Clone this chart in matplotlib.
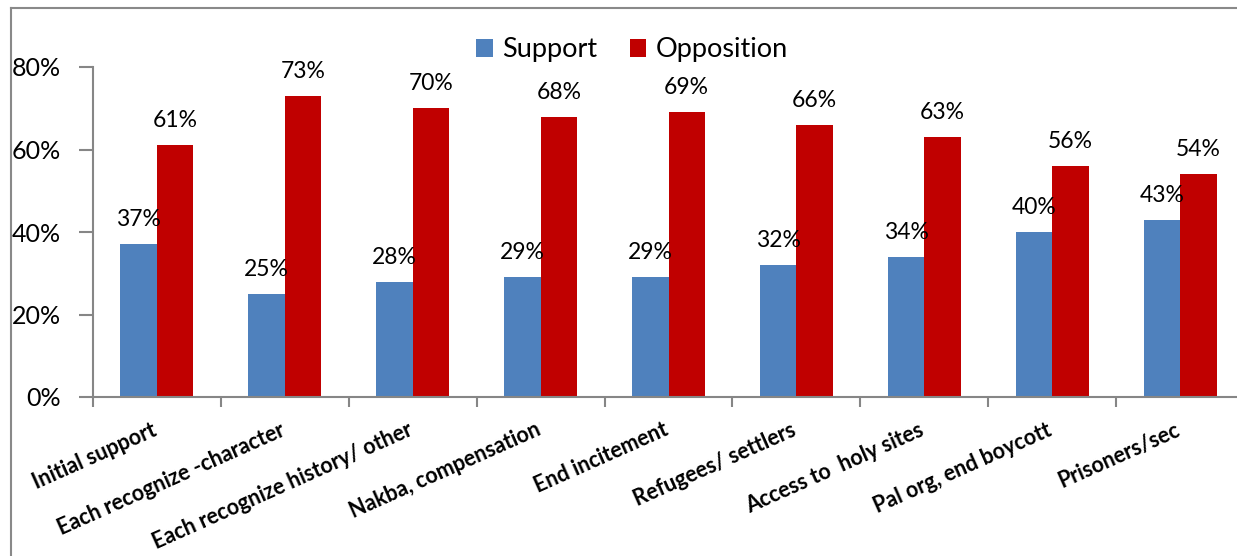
import matplotlib.pyplot as plt
import numpy as np
from matplotlib.lines import Line2D

categories = ['Initial support', 'Each recognize -character', 'Each recognize history/ other',
              'Nakba, compensation', 'End incitement', 'Refugees/ settlers',
              'Access to  holy sites', 'Pal org, end boycott', 'Prisoners/sec']
support = [37, 25, 28, 29, 29, 32, 34, 40, 43]
opposition = [61, 73, 70, 68, 69, 66, 63, 56, 54]

plt.rcParams['font.family'] = ['Lato', 'DejaVu Sans']

fig = plt.figure(figsize=(12.37, 5.56), dpi=100)
ax = fig.add_axes([93 / 1237, 159 / 556, 1151 / 1237, 330 / 556])

x = np.arange(len(categories))
w = 0.285
b1 = ax.bar(x - w / 2, support, w, color='#4F81BD', label='Support')
b2 = ax.bar(x + w / 2, opposition, w, color='#C00000', label='Opposition')

for bars, vals in ((b1, support), (b2, opposition)):
    for r, v in zip(bars, vals):
        ax.annotate(f'{v}%', (r.get_x() + r.get_width() / 2, v), xytext=(0, 10),
                    textcoords='offset points', ha='center', va='bottom',
                    fontsize=16.5, color='#000000', annotation_clip=False)

ax.set_xlim(-0.5, len(categories) - 0.5)
ax.set_ylim(0, 80)
ax.set_yticks([0, 20, 40, 60, 80])
ax.set_yticklabels(['0%', '20%', '40%', '60%', '80%'], fontsize=18)
ax.set_xticks(np.arange(len(categories) + 1) - 0.5)
ax.set_xticklabels([])
ax.tick_params(axis='both', color='#868686', width=1.5, direction='out')
ax.tick_params(axis='y', length=10, pad=13)
ax.tick_params(axis='x', length=7)

for s in ['top', 'right']:
    ax.spines[s].set_visible(False)
for s in ['left', 'bottom']:
    ax.spines[s].set_color('#868686')
    ax.spines[s].set_linewidth(1.5)

# slanted category labels
for i, c in enumerate(categories):
    ax.annotate(c, (i, 0), xytext=(-4, -16), textcoords='offset points',
                ha='right', va='top', rotation=24, rotation_mode='anchor',
                fontsize=15.5, fontweight='bold', annotation_clip=False)

fig.legend(handles=[b1, b2], loc='center', bbox_to_anchor=(632 / 1237, 1 - 50 / 556),
           ncol=2, frameon=False, fontsize=19.5, handlelength=0.6, handleheight=0.6,
           handletextpad=0.35, columnspacing=1.2, borderpad=0)

# outer chart border
fig.add_artist(Line2D([11 / 1237, 1.01], [1 - 8 / 556] * 2, color='#898989', lw=1.5,
                      transform=fig.transFigure))
fig.add_artist(Line2D([11 / 1237] * 2, [-0.01, 1 - 8 / 556], color='#898989', lw=1.5,
                      transform=fig.transFigure))

fig.savefig('out.png', dpi=100)
